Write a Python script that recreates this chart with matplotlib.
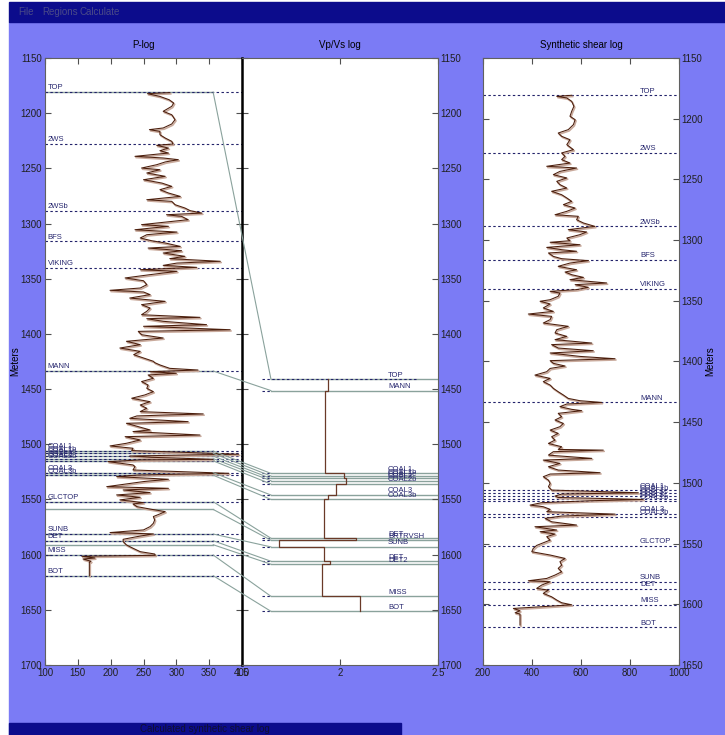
import numpy as np
import matplotlib.pyplot as plt
from matplotlib.patches import Rectangle, ConnectionPatch
import matplotlib.transforms as mtransforms

plt.rcParams['font.family'] = ['Liberation Sans', 'DejaVu Sans']

# ---- P-log (depth m, value) ----
plog_depth = [1181.4, 1182.3, 1184.8, 1187.8, 1190.8, 1193.8, 1198.3, 1201.4, 1205.9, 1209.8,
              1213.4, 1214.9, 1216.5, 1219.5, 1222.5, 1225.5, 1227.9, 1229.1, 1231.6, 1234.0,
              1236.1, 1239.1, 1240.6, 1242.1, 1244.2, 1246.7, 1249.7, 1251.2, 1254.2, 1257.2,
              1260.3, 1263.3, 1266.3, 1269.3, 1272.3, 1275.4, 1278.4, 1279.9, 1282.9, 1285.9,
              1288.3, 1290.5, 1292.0, 1293.5, 1296.5, 1301.0, 1302.5, 1305.6, 1307.7, 1310.1,
              1313.1, 1315.5, 1317.6, 1320.7, 1322.2, 1324.6, 1326.7, 1329.7, 1331.8, 1334.2,
              1335.8, 1337.9, 1339.7, 1341.8, 1343.3, 1346.3, 1349.3, 1351.8, 1355.4, 1358.4,
              1360.5, 1362.0, 1364.4, 1367.5, 1370.5, 1373.5, 1376.5, 1379.5, 1382.6, 1385.0,
              1386.2, 1388.6, 1391.6, 1393.1, 1396.2, 1397.7, 1400.7, 1403.7, 1406.7, 1409.7,
              1412.8, 1415.8, 1418.8, 1421.8, 1424.8, 1426.0, 1428.1, 1431.2, 1432.7, 1434.2,
              1435.7, 1437.2, 1440.2, 1443.2, 1446.3, 1449.3, 1452.3, 1455.3, 1458.3, 1461.4,
              1464.4, 1467.4, 1470.4, 1472.5, 1474.3, 1476.5, 1479.5, 1481.0, 1484.0, 1487.0,
              1488.5, 1491.6, 1493.1, 1496.1, 1499.1, 1501.5, 1503.6, 1505.7, 1509.0, 1510.6,
              1511.8, 1513.6, 1514.2, 1515.7, 1518.7, 1520.2, 1523.3, 1526.3, 1527.8, 1529.3,
              1531.7, 1533.8, 1535.9, 1538.4, 1539.9, 1541.4, 1543.8, 1545.9, 1548.0, 1550.4,
              1552.9, 1554.1, 1556.5, 1558.9, 1561.0, 1563.1, 1565.5, 1568.6, 1571.6, 1574.6,
              1577.6, 1580.0, 1581.2, 1583.7, 1586.1, 1588.2, 1591.2, 1594.2, 1597.3, 1599.4,
              1600.6, 1601.5, 1603.0, 1604.0, 1606.0, 1607.0, 1619.0]
plog_val = [290, 256, 275, 289, 296, 293, 280, 293, 298, 293,
            280, 259, 275, 275, 283, 293, 295, 270, 288, 275,
            288, 237, 280, 303, 283, 270, 247, 275, 255, 283,
            250, 278, 293, 275, 288, 306, 255, 293, 298, 313,
            321, 339, 285, 308, 318, 247, 288, 237, 301, 255,
            245, 262, 283, 306, 257, 308, 280, 313, 290, 367,
            301, 280, 331, 245, 301, 260, 222, 250, 255, 245,
            199, 250, 260, 229, 283, 247, 260, 255, 247, 336,
            255, 280, 346, 250, 382, 242, 247, 280, 224, 245,
            214, 245, 235, 250, 265, 267, 275, 290, 333, 260,
            300, 257, 265, 247, 257, 255, 265, 252, 232, 260,
            245, 255, 245, 341, 240, 229, 318, 224, 242, 260,
            234, 336, 222, 245, 224, 199, 234, 232, 395, 229,
            262, 356, 245, 196, 234, 237, 234, 380, 242, 209,
            288, 250, 224, 194, 288, 219, 260, 209, 245, 214,
            250, 234, 240, 262, 283, 275, 265, 267, 265, 260,
            250, 199, 265, 240, 219, 219, 224, 234, 245, 267,
            268, 156, 176, 158, 170, 167.5, 167.5]

# ---- synthetic shear log ----
shear_depth = [1180.7, 1181.6, 1182.9, 1185.7, 1189.8, 1193.9, 1198.0, 1200.8, 1204.9, 1209.0,
               1211.8, 1214.5, 1217.3, 1221.4, 1225.5, 1228.2, 1231.0, 1233.7, 1236.5, 1239.2,
               1240.6, 1243.4, 1246.1, 1248.8, 1251.6, 1254.3, 1257.1, 1259.8, 1262.6, 1265.3,
               1268.1, 1270.8, 1273.6, 1276.3, 1279.1, 1280.4, 1283.2, 1285.9, 1288.7, 1291.4,
               1293.3, 1295.5, 1298.3, 1300.5, 1301.8, 1303.8, 1306.0, 1307.9, 1309.2, 1310.6,
               1313.4, 1315.3, 1316.9, 1318.9, 1321.6, 1324.4, 1326.3, 1328.5, 1330.7, 1332.6,
               1335.3, 1336.7, 1338.9, 1340.8, 1342.2, 1343.6, 1346.3, 1349.1, 1350.4, 1352.6,
               1355.9, 1358.7, 1360.9, 1362.8, 1365.5, 1368.3, 1371.0, 1373.8, 1376.5, 1379.3,
               1382.0, 1384.8, 1386.1, 1388.9, 1391.1, 1393.0, 1395.8, 1397.7, 1399.3, 1401.5,
               1403.7, 1405.7, 1408.4, 1411.2, 1413.9, 1416.6, 1419.4, 1422.1, 1424.9, 1427.6,
               1430.4, 1432.3, 1433.7, 1435.0, 1437.2, 1439.4, 1440.5, 1442.7, 1445.5, 1448.2,
               1451.0, 1453.7, 1456.5, 1459.2, 1462.0, 1464.7, 1467.5, 1470.2, 1472.4, 1473.0,
               1474.3, 1477.1, 1479.8, 1481.2, 1483.9, 1486.7, 1489.4, 1491.6, 1492.7, 1494.9,
               1497.7, 1500.4, 1503.1, 1505.9, 1508.1, 1509.2, 1510.8, 1512.0, 1513.6, 1514.7,
               1516.3, 1518.3, 1519.6, 1521.8, 1523.7, 1525.7, 1527.3, 1529.2, 1532.0, 1534.7,
               1536.1, 1538.8, 1540.2, 1542.1, 1544.3, 1547.1, 1549.3, 1551.5, 1554.0, 1556.7,
               1558.1, 1559.4, 1562.2, 1564.9, 1567.7, 1570.4, 1573.2, 1575.9, 1578.7, 1580.6,
               1581.4, 1584.2, 1586.9, 1588.3, 1591.0, 1593.8, 1596.5, 1598.7, 1600.4, 1602.0,
               1603.4, 1605.3, 1607.0, 1608.0, 1608.9, 1617.1]
shear_val = [562, 501, 542, 562, 571, 562, 555, 576, 569, 548,
             507, 521, 555, 542, 569, 521, 535, 521, 555, 460,
             582, 514, 487, 542, 501, 514, 542, 480, 521, 542,
             562, 528, 576, 542, 494, 589, 582, 610, 657, 548,
             623, 596, 542, 555, 474, 596, 460, 521, 582, 467,
             487, 521, 630, 555, 507, 582, 535, 562, 610, 555,
             705, 576, 630, 582, 474, 514, 507, 474, 433, 474,
             446, 487, 385, 480, 474, 446, 548, 501, 494, 542,
             494, 644, 480, 507, 650, 474, 596, 739, 474, 487,
             535, 474, 460, 412, 474, 446, 474, 487, 507, 528,
             548, 596, 684, 542, 514, 562, 603, 507, 521, 494,
             528, 514, 474, 507, 480, 494, 467, 521, 507, 691,
             487, 467, 644, 446, 514, 467, 507, 678, 474, 446,
             467, 474, 467, 480, 834, 521, 494, 507, 854, 637,
             439, 392, 446, 474, 460, 739, 521, 453, 480, 582,
             412, 501, 433, 494, 460, 474, 446, 419, 405, 399,
             439, 474, 535, 514, 521, 507, 521, 494, 460, 385,
             474, 439, 419, 467, 446, 480, 501, 521, 562, 439,
             324, 351, 331, 351, 351, 351]

# ---- formation tops ----
top_names = ['TOP', '2WS', '2WSb', 'BFS', 'VIKING', 'MANN', 'COAL1', 'COAL1b', 'COAL1c', 'COAL2',
             'COAL2b', 'COAL3', 'COAL3b', 'GLCTOP', 'BRTRVSH', 'SUNB', 'DET', 'DET2', 'MISS', 'BOT']
top_depths = [1180.8, 1228.0, 1288.6, 1316.0, 1340.3, 1433.6, 1506.1, 1508.2, 1510.7, 1513.0,
              1515.0, 1525.7, 1528.0, 1552.0, 1559.0, 1581.3, 1587.4, 1591.0, 1600.3, 1619.0]
hidden_tops = ['BRTRVSH', 'DET2']

# tops as placed on the Vp/Vs depth scale
mid_names = ['TOP', 'MANN', 'COAL1', 'COAL1b', 'COAL1c', 'COAL2', 'COAL2b', 'COAL3', 'COAL3b',
             'GLCTOP', 'BRTRVSH', 'SUNB', 'DET', 'DET2', 'MISS', 'BOT']
mid_labels = ['TOP', 'MANN', 'COAL1', 'COAL1b', 'COAL1c', 'COAL2', 'COAL2b', 'COAL3', 'COAL3b',
              'DET', 'BRTRVSH', 'SUNB', 'DET', 'DET2', 'MISS', 'BOT']
mid_depths = [1441.2, 1451.4, 1526.4, 1528.8, 1531.0, 1533.0, 1536.0, 1546.0, 1550.0,
              1585.2, 1587.0, 1593.0, 1606.0, 1608.7, 1637.8, 1651.4]
# Vp/Vs per interval between consecutive mid_depths
vpvs = [1.937, 1.925, 2.02, 2.02, 2.03, 2.03, 1.98, 1.94, 1.92, 2.08, 1.69, 1.917, 1.95, 1.908, 2.10]

BG = '#7b7bf5'
NAVY = '#0c0c8c'
TXT = '#26266e'
GRAY = '#8aa29c'
DARK = '#4b1e0c'
LIGHT = '#c9aa9c'
W, H = 725, 735

fig = plt.figure(figsize=(W / 100, H / 100), dpi=100, facecolor='white')
fig.add_artist(Rectangle((9 / W, 0), 1 - 9 / W, 1 - 22 / H, transform=fig.transFigure,
                         color=BG, zorder=-10))
fig.add_artist(Rectangle((9 / W, 1 - 22 / H), 1 - 9 / W, 20 / H, transform=fig.transFigure,
                         color=NAVY, zorder=-9))
fig.add_artist(Rectangle((9 / W, 0), 392 / W, 12 / H, transform=fig.transFigure,
                         color=NAVY, zorder=-9))
for label, x in [('File', 18), ('Regions', 42), ('Calculate', 79)]:
    fig.text(x / W, 1 - 12 / H, label, color='#4a4a88', fontsize=7, va='center')
fig.text(205 / W, 6 / H, 'Calculated synthetic shear log', color='#101030', fontsize=7,
         ha='center', va='center')

ax1 = fig.add_axes([45 / W, 70 / H, 197 / W, 607 / H])
ax2 = fig.add_axes([242 / W, 70 / H, 196 / W, 607 / H])
ax3 = fig.add_axes([483 / W, 70 / H, 196 / W, 607 / H])

for ax in (ax1, ax2, ax3):
    ax.set_facecolor('white')
    ax.tick_params(direction='in', length=4, width=0.8, top=True, right=True,
                   labelsize=7, color='#505050', labelcolor='#202020', pad=2)
    for s in ax.spines.values():
        s.set_color('#606060')
        s.set_linewidth(0.8)

ax1.set_xlim(100, 400)
ax1.set_ylim(1700, 1150)
ax1.set_xticks(range(100, 401, 50))
ax1.set_yticks(range(1150, 1701, 50))
ax1.set_ylabel('Meters', fontsize=7, labelpad=0.5)
ax1.set_title('P-log', fontsize=7, pad=7)

ax2.set_xlim(1.5, 2.5)
ax2.set_ylim(1700, 1150)
ax2.set_xticks([1.5, 2, 2.5])
ax2.set_xticklabels(['1.5', '2', '2.5'])
ax2.set_yticks(range(1150, 1701, 50))
ax2.tick_params(labelleft=False, labelright=True)
ax2.spines['left'].set_color('black')
ax2.spines['left'].set_linewidth(1.8)
ax2.set_title('Vp/Vs log', fontsize=7, pad=7)

ax3.set_xlim(200, 1000)
ax3.set_ylim(1650, 1150)
ax3.set_xticks(range(200, 1001, 200))
ax3.set_yticks(range(1150, 1651, 50))
ax3.tick_params(labelleft=False, labelright=True)
ax3.yaxis.set_label_position('right')
ax3.set_ylabel('Meters', fontsize=7, labelpad=1)
ax3.set_title('Synthetic shear log', fontsize=7, pad=7)

dash = (0, (2.2, 2.2))

# tops on P-log and shear log
for name, d in zip(top_names, top_depths):
    if name in hidden_tops:
        continue
    ax1.plot([100, 400], [d, d], ls=dash, color='#22226a', lw=0.8, zorder=2)
    ax1.text(104, d - 0.6, name, fontsize=5.5, color=TXT, va='bottom', zorder=5)
    ax3.plot([200, 1000], [d, d], ls=dash, color='#22226a', lw=0.8, zorder=2)
    ax3.text(841, d - 0.5, name, fontsize=5.5, color=TXT, va='bottom', zorder=5)

# links from P-log depths to Vp/Vs depths
for name, dm, lab in zip(mid_names, mid_depths, mid_labels):
    dl = top_depths[top_names.index(name)]
    ax1.plot([100, 356], [dl, dl], color=GRAY, lw=1.0, zorder=1)
    con = ConnectionPatch(xyA=(356, dl), coordsA=ax1.transData,
                          xyB=(1.648, dm), coordsB=ax2.transData,
                          color=GRAY, lw=0.8, zorder=1)
    fig.add_artist(con)
    ax2.plot([1.648, 2.5], [dm, dm], color=GRAY, lw=1.0, zorder=1)
    x_end = 2.393 if name == 'TOP' else 1.648
    ax2.plot([1.602, x_end], [dm, dm], ls=dash, color='#22226a', lw=0.8, zorder=2)
    ax2.text(2.245, dm - 0.5, lab, fontsize=5.5, color=TXT, va='bottom', zorder=5)

# Vp/Vs blocked curve
sx, sy = [], []
for i, v in enumerate(vpvs):
    sx += [v, v]
    sy += [mid_depths[i], mid_depths[i + 1]]
ax2.plot(sx, sy, color='#6a3a28', lw=0.9, zorder=3)


def draw_log(ax, d, v):
    shadow = mtransforms.offset_copy(ax.transData, fig=fig, x=0.7, y=-0.9, units='points')
    ax.plot(v, d, color=LIGHT, lw=1.2, transform=shadow, zorder=3)
    ax.plot(v, d, color=DARK, lw=0.75, zorder=4)


draw_log(ax1, plog_depth, plog_val)
draw_log(ax3, shear_depth, shear_val)

plt.savefig('out.png', dpi=100, facecolor=fig.get_facecolor())
